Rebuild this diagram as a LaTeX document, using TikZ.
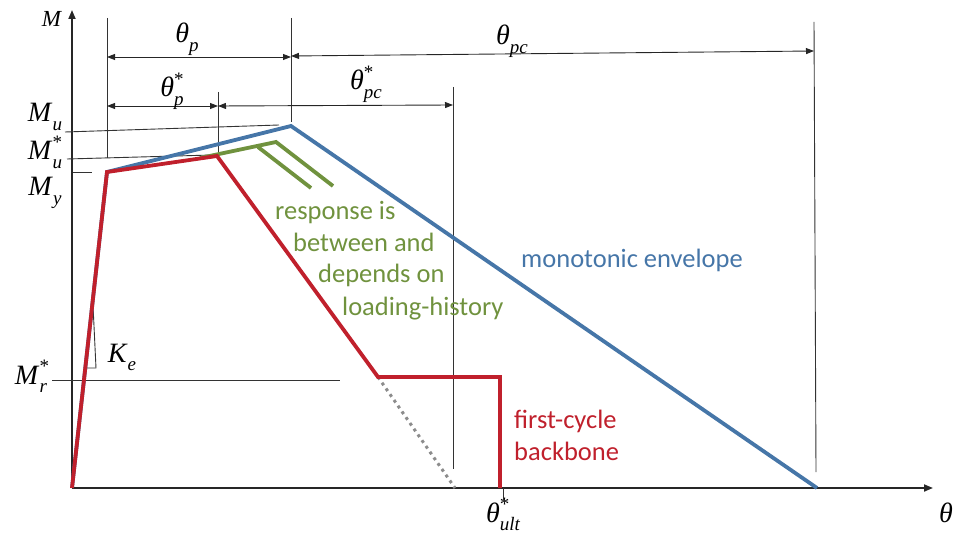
\documentclass[tikz,border=0pt]{standalone}
\usepackage{fontspec}
\setmainfont{Carlito}
\newfontfamily\labfont{Liberation Serif}
\usetikzlibrary{arrows.meta}
\definecolor{cblue}{RGB}{70,118,168}
\definecolor{cred}{RGB}{192,32,44}
\definecolor{cgreen}{RGB}{112,146,62}
\definecolor{cgray}{RGB}{140,140,140}
% base, subscript, superscript
\newcommand{\lab}[3]{\textit{#1}\rlap{\raisebox{0.42em}{\fontsize{19}{21}\selectfont #3}}\raisebox{-0.3em}{\fontsize{19}{21}\selectfont\itshape #2}}
\tikzset{
  curve/.style={line width=3.8pt,line join=miter},
  thin/.style={line width=0.9pt,black!80},
  axis/.style={line width=1.8pt,black!85,-{Triangle[length=9pt,width=7pt]}},
  dim/.style={line width=0.9pt,black!85,{Triangle[length=8pt,width=6pt]}-{Triangle[length=8pt,width=6pt]}},
  mlab/.style={font=\labfont\fontsize{28}{32}\selectfont,inner sep=0pt,anchor=base},
  txt/.style={font=\fontsize{26.5}{30}\selectfont,inner sep=0pt,anchor=base west}
}
\begin{document}
\begin{tikzpicture}[x=1pt,y=-1pt]
\useasboundingbox (0,0) rectangle (958,537);
% key points
\coordinate (O) at (72,488);
\coordinate (Ytop) at (72,10);
\coordinate (Xend) at (933,488);
\coordinate (By) at (107,172);
\coordinate (Bu) at (291,126);
\coordinate (Bend) at (817,488);
\coordinate (Rp) at (217,156);
\coordinate (Rr) at (378,377);
\coordinate (Rrr) at (500,377);
\coordinate (Rult) at (500,488);
\coordinate (Dz) at (455,488);
\coordinate (G0) at (200,158);
\coordinate (G1) at (276,142);
\coordinate (G2) at (333,186);
\coordinate (G3) at (258,147);
\coordinate (G4) at (311,188);
% axes
\draw[axis] (O) -- (Xend);
\draw[axis] (O) -- (Ytop);
% extension lines
\coordinate (E1a) at (107,18); \coordinate (E1b) at (107,158);
\coordinate (E2a) at (291,18); \coordinate (E2b) at (291,122);
\coordinate (E3a) at (218,92); \coordinate (E3b) at (218,153);
\coordinate (E4a) at (814,22); \coordinate (E4b) at (816,472);
\coordinate (E5a) at (453,87); \coordinate (E5b) at (453,469);
\draw[thin] (E1a) -- (E1b);
\draw[thin] (E2a) -- (E2b);
\draw[thin] (E3a) -- (E3b);
\draw[thin] (E4a) -- (E4b);
\draw[thin] (E5a) -- (E5b);
% dimension lines
\coordinate (D1a) at (107,57); \coordinate (D1b) at (291,57);
\coordinate (D2a) at (291,56); \coordinate (D2b) at (814,51);
\coordinate (D3a) at (107,106); \coordinate (D3b) at (218,106);
\coordinate (D4a) at (218,106); \coordinate (D4b) at (453,105);
\draw[dim] (D1a) -- (D1b);
\draw[dim] (D2a) -- (D2b);
\draw[dim] (D3a) -- (D3b);
\draw[dim] (D4a) -- (D4b);
% level lines
\coordinate (Lu1) at (65,132); \coordinate (Lu2) at (279,125);
\coordinate (Ls1) at (67,159); \coordinate (Ls2) at (212,155);
\coordinate (Ly1) at (73,172); \coordinate (Ly2) at (92,172);
\coordinate (Lr1) at (52,380); \coordinate (Lr2) at (340,380);
\draw[thin] (Lu1) -- (Lu2);
\draw[thin] (Ls1) -- (Ls2);
\draw[thin] (Ly1) -- (Ly2);
\draw[thin] (Lr1) -- (Lr2);
% Ke triangle
\coordinate (K1) at (93,305); \coordinate (K2) at (96,368); \coordinate (K3) at (85,368);
\draw[thin] (K1) -- (K2) -- (K3);
% tick at theta_ult
\coordinate (T1) at (503,488); \coordinate (T2) at (503,500);
\draw[thin] (T1) -- (T2);
% curves
\draw[cgray,line width=3pt,dash pattern=on 3pt off 4pt] (Rr) -- (Dz);
\draw[curve,cblue] (O) -- (By) -- (Bu) -- (Bend);
\draw[curve,cgreen] (G0) -- (G1) -- (G2);
\draw[curve,cgreen] (G3) -- (G4);
\draw[curve,cred] (O) -- (By) -- (Rp) -- (Rr) -- (Rrr) -- (Rult);
% math labels
\node[mlab] (lM) at (52,27) {\fontsize{23}{26}\selectfont\textit{M}};
\node[mlab] (lMu) at (45,122) {\lab{M}{u}{}};
\node[mlab] (lMus) at (45,160) {\lab{M}{u}{*}};
\node[mlab] (lMy) at (45,196) {\lab{M}{y}{}};
\node[mlab] (lMr) at (31,384) {\lab{M}{r}{*}};
\node[mlab] (lKe) at (122,362) {\lab{K}{e}{}};
\node[mlab] (ltp) at (187,43) {\lab{θ}{p}{}};
\node[mlab] (ltps) at (172,97) {\lab{θ}{p}{*}};
\node[mlab] (ltpc) at (512,45) {\lab{θ}{pc}{}};
\node[mlab] (ltpcs) at (366,90) {\lab{θ}{pc}{*}};
\node[mlab] (ltu) at (503,522) {\lab{θ}{ult}{*}};
\node[mlab] (lth) at (946,522) {\textit{θ}};
% text labels
\node[txt,text=cgreen] (g1) at (275,220) {response is};
\node[txt,text=cgreen] (g2) at (293,252) {between and};
\node[txt,text=cgreen] (g3) at (318,283) {depends on};
\node[txt,text=cgreen] (g4) at (342,315) {loading-history};
\node[txt,text=cblue] (mono) at (521,268) {monotonic envelope};
\node[txt,text=cred] (fc1) at (514,428) {first-cycle};
\node[txt,text=cred] (fc2) at (514,460) {backbone};
\end{tikzpicture}
\end{document}
